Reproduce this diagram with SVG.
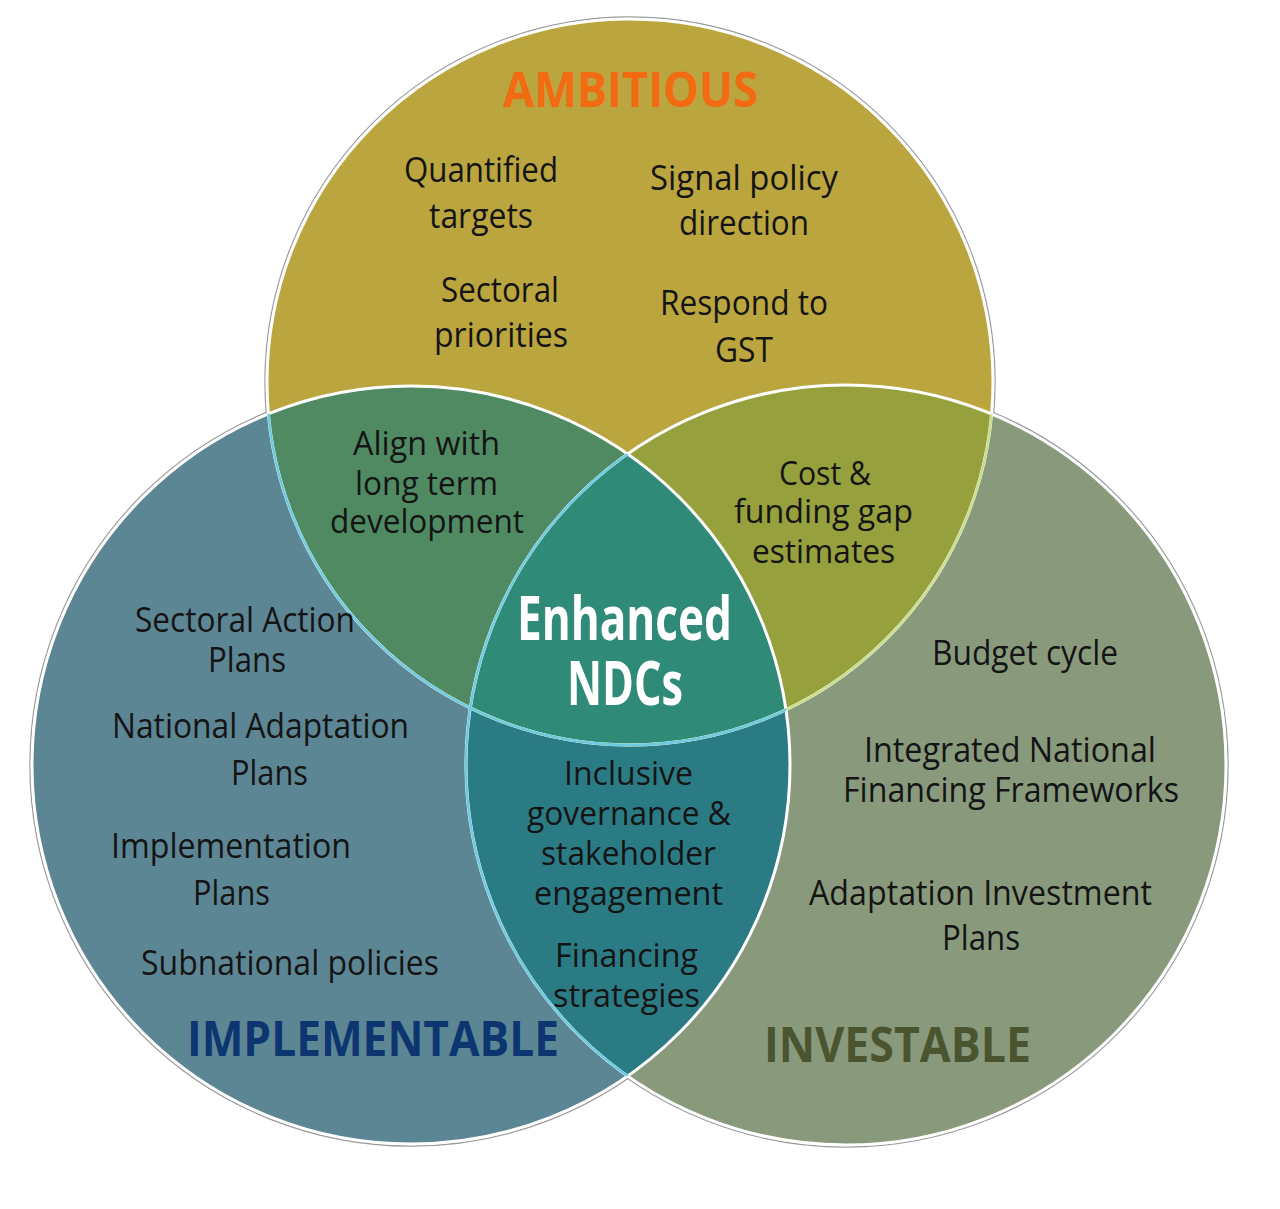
<svg xmlns="http://www.w3.org/2000/svg" width="1280" height="1209" viewBox="0 0 1280 1209">
<style>
.t{font-family:"Open Sans","Noto Sans","Liberation Sans",sans-serif;font-size:35px;fill:#141414}
.m{font-size:34px}
.s{font-size:33px}
.hd{font-weight:700;font-size:48px}
.ctr{font-weight:700;font-size:60px;fill:#ffffff}
.edge{fill:none;stroke:#ffffff;stroke-width:3}
.ring{fill:none;stroke:#9a9a9a;stroke-width:1.4}
</style>
<defs>
<circle id="cT" cx="630" cy="382" r="363"/>
<circle id="cL" cx="411" cy="765" r="379"/>
<circle id="cR" cx="846" cy="765" r="380"/>
<clipPath id="inT"><use href="#cT"/></clipPath>
<clipPath id="inL"><use href="#cL"/></clipPath>
<clipPath id="inR"><use href="#cR"/></clipPath>
</defs>
<rect width="1280" height="1209" fill="#ffffff"/>
<g id="venn-shapes">
<circle class="ring" cx="630" cy="382" r="365"/>
<circle class="ring" cx="411" cy="765" r="381"/>
<circle class="ring" cx="846" cy="765" r="382"/>
<use href="#cT" fill="#bba53f"/>
<use href="#cL" fill="#5d8694"/>
<use href="#cR" fill="#899a7c"/>
<g clip-path="url(#inT)"><use href="#cL" fill="#508a62"/></g>
<g clip-path="url(#inT)"><use href="#cR" fill="#96a03c"/></g>
<g clip-path="url(#inL)"><use href="#cR" fill="#2b7b84"/></g>
<g clip-path="url(#inT)"><g clip-path="url(#inR)"><use href="#cL" fill="#308a78"/></g></g>
<use href="#cT" class="edge"/>
<use href="#cR" class="edge"/>
<use href="#cL" class="edge"/>
<g clip-path="url(#inR)"><use href="#cT" fill="none" stroke="#c9de8c" stroke-width="2.5"/></g>
<g clip-path="url(#inL)"><use href="#cT" fill="none" stroke="#6ccbe0" stroke-width="2.5"/></g>
<g clip-path="url(#inL)"><use href="#cR" fill="none" stroke="#6ccbe0" stroke-width="2.5"/></g>
</g>
<g id="connectors"/>
<g id="node-ambitious">
<text class="t hd" x="503" y="107" textLength="255" lengthAdjust="spacingAndGlyphs" fill="#f26a12" style="fill:#f26a12">AMBITIOUS</text>
<text class="t" x="404" y="182" textLength="154" lengthAdjust="spacingAndGlyphs">Quantified</text>
<text class="t" x="429" y="228" textLength="104" lengthAdjust="spacingAndGlyphs">targets</text>
<text class="t" x="441" y="302" textLength="118" lengthAdjust="spacingAndGlyphs">Sectoral</text>
<text class="t" x="434" y="347" textLength="134" lengthAdjust="spacingAndGlyphs">priorities</text>
<text class="t" x="650" y="190" textLength="188" lengthAdjust="spacingAndGlyphs">Signal policy</text>
<text class="t" x="679" y="235" textLength="130" lengthAdjust="spacingAndGlyphs">direction</text>
<text class="t" x="660" y="315" textLength="168" lengthAdjust="spacingAndGlyphs">Respond to</text>
<text class="t" x="715" y="362" textLength="58" lengthAdjust="spacingAndGlyphs">GST</text>
</g>
<g id="node-implementable">
<text class="t" x="135" y="632" textLength="220" lengthAdjust="spacingAndGlyphs">Sectoral Action</text>
<text class="t" x="208" y="672" textLength="78" lengthAdjust="spacingAndGlyphs">Plans</text>
<text class="t" x="112" y="738" textLength="297" lengthAdjust="spacingAndGlyphs">National Adaptation</text>
<text class="t" x="231" y="785" textLength="77" lengthAdjust="spacingAndGlyphs">Plans</text>
<text class="t" x="111" y="858" textLength="240" lengthAdjust="spacingAndGlyphs">Implementation</text>
<text class="t" x="193" y="905" textLength="77" lengthAdjust="spacingAndGlyphs">Plans</text>
<text class="t" x="141" y="975" textLength="298" lengthAdjust="spacingAndGlyphs">Subnational policies</text>
<text class="t hd" x="187" y="1056" textLength="372" lengthAdjust="spacingAndGlyphs" style="fill:#0d3670">IMPLEMENTABLE</text>
</g>
<g id="node-investable">
<text class="t m" x="932" y="665" textLength="186" lengthAdjust="spacingAndGlyphs">Budget cycle</text>
<text class="t m" x="864" y="762" textLength="292" lengthAdjust="spacingAndGlyphs">Integrated National</text>
<text class="t m" x="843" y="802" textLength="336" lengthAdjust="spacingAndGlyphs">Financing Frameworks</text>
<text class="t m" x="809" y="905" textLength="343" lengthAdjust="spacingAndGlyphs">Adaptation Investment</text>
<text class="t m" x="942" y="950" textLength="78" lengthAdjust="spacingAndGlyphs">Plans</text>
<text class="t hd" x="764" y="1062" textLength="267" lengthAdjust="spacingAndGlyphs" style="fill:#4a5530">INVESTABLE</text>
</g>
<g id="node-ambitious-implementable">
<text class="t s" x="353" y="455" textLength="147" lengthAdjust="spacingAndGlyphs">Align with</text>
<text class="t s" x="355" y="495" textLength="143" lengthAdjust="spacingAndGlyphs">long term</text>
<text class="t s" x="330" y="533" textLength="194" lengthAdjust="spacingAndGlyphs">development</text>
</g>
<g id="node-ambitious-investable">
<text class="t s" x="779" y="485" textLength="92" lengthAdjust="spacingAndGlyphs">Cost &amp;</text>
<text class="t s" x="734" y="523" textLength="179" lengthAdjust="spacingAndGlyphs">funding gap</text>
<text class="t s" x="752" y="563" textLength="143" lengthAdjust="spacingAndGlyphs">estimates</text>
</g>
<g id="node-implementable-investable">
<text class="t s" x="564" y="785" textLength="129" lengthAdjust="spacingAndGlyphs">Inclusive</text>
<text class="t s" x="527" y="825" textLength="204" lengthAdjust="spacingAndGlyphs">governance &amp;</text>
<text class="t s" x="541" y="865" textLength="175" lengthAdjust="spacingAndGlyphs">stakeholder</text>
<text class="t s" x="534" y="905" textLength="189" lengthAdjust="spacingAndGlyphs">engagement</text>
<text class="t s" x="555" y="967" textLength="143" lengthAdjust="spacingAndGlyphs">Financing</text>
<text class="t s" x="553" y="1007" textLength="147" lengthAdjust="spacingAndGlyphs">strategies</text>
</g>
<g id="node-enhanced-ndcs">
<text class="t ctr" x="517" y="640" textLength="215" lengthAdjust="spacingAndGlyphs">Enhanced</text>
<text class="t ctr" x="567" y="705" textLength="116" lengthAdjust="spacingAndGlyphs">NDCs</text>
</g>
</svg>
